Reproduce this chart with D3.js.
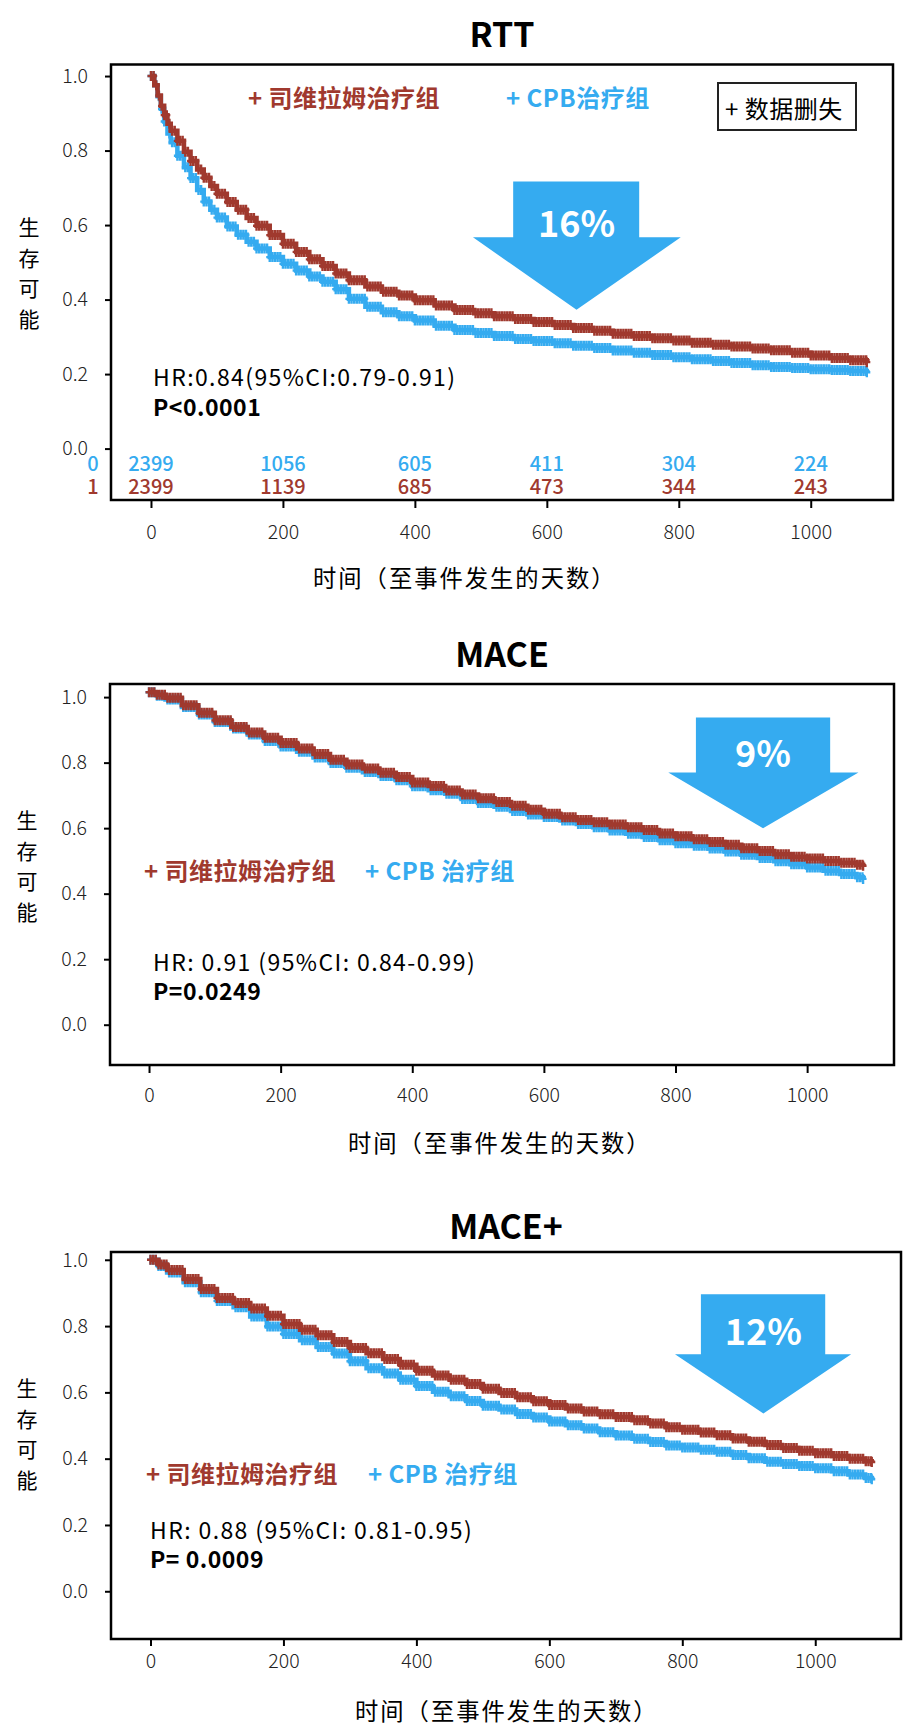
<!DOCTYPE html>
<html>
<head>
<meta charset="utf-8">
<script src="https://cdn.jsdelivr.net/npm/d3@7"></script>
<style>
  body { margin: 0; background: #fff; }
  svg { display: block; }
  text { font-family: "Noto Sans CJK SC", "Noto Sans", sans-serif; }
</style>
</head>
<body>
<div id="chart"></div>
<script>
const width = 906;
const height = 1733;
const red = "#a0392e";
const blue = "#35abf0";

// ---- RTT ----
const rttTime = [0, 5, 10, 15, 20, 25, 30, 40, 50, 60, 70, 80, 90, 100, 115, 130, 145, 160, 180, 200,
  220, 240, 260, 280, 300, 325, 350, 375, 400, 430, 460, 490, 520, 550, 580, 610, 640, 670, 700, 730,
  760, 790, 820, 850, 880, 910, 940, 970, 1000, 1030, 1060, 1085];
const rttSevelamer = [1.0, 0.975, 0.948, 0.92, 0.895, 0.872, 0.853, 0.826, 0.797, 0.772, 0.749, 0.727, 0.705, 0.684, 0.662, 0.641, 0.619, 0.598, 0.573, 0.550,
  0.528, 0.508, 0.490, 0.470, 0.452, 0.435, 0.421, 0.411, 0.398, 0.384, 0.372, 0.363, 0.355, 0.348, 0.340, 0.332, 0.324, 0.316, 0.308, 0.302,
  0.296, 0.290, 0.284, 0.279, 0.274, 0.269, 0.264, 0.257, 0.250, 0.243, 0.237, 0.232];
const rttCpb = [1.0, 0.975, 0.946, 0.912, 0.878, 0.846, 0.822, 0.786, 0.755, 0.726, 0.694, 0.663, 0.641, 0.620, 0.596, 0.574, 0.555, 0.537, 0.514, 0.496,
  0.478, 0.462, 0.448, 0.428, 0.402, 0.381, 0.366, 0.355, 0.344, 0.330, 0.318, 0.310, 0.302, 0.294, 0.289, 0.283, 0.276, 0.270, 0.263, 0.257,
  0.251, 0.245, 0.240, 0.235, 0.230, 0.224, 0.219, 0.216, 0.213, 0.211, 0.208, 0.205];
const riskTimes = [0, 200, 400, 600, 800, 1000];
const rttRiskCpb = [2399, 1056, 605, 411, 304, 224];
const rttRiskSevelamer = [2399, 1139, 685, 473, 344, 243];

// ---- MACE / MACE+ share a time grid ----
const maceTime = [0, 12, 25, 50, 75, 100, 125, 150, 175, 200, 225, 250, 275, 300, 325, 350, 375, 400, 425, 450, 475,
  500, 525, 550, 575, 600, 625, 650, 675, 700, 725, 750, 775, 800, 825, 850, 875, 900, 925, 950, 975,
  1000, 1025, 1050, 1075, 1085];
const maceSevelamer = [1.015, 1.007, 0.998, 0.975, 0.952, 0.929, 0.909, 0.892, 0.876, 0.860, 0.843, 0.826, 0.809, 0.794, 0.782, 0.769, 0.756, 0.739, 0.729, 0.715, 0.703,
  0.691, 0.680, 0.668, 0.656, 0.644, 0.633, 0.625, 0.618, 0.611, 0.603, 0.594, 0.584, 0.575, 0.566, 0.558, 0.549, 0.539, 0.530, 0.520, 0.513,
  0.507, 0.500, 0.494, 0.488, 0.485];
const maceCpb = [1.015, 1.004, 0.993, 0.970, 0.947, 0.924, 0.904, 0.886, 0.866, 0.849, 0.833, 0.816, 0.799, 0.784, 0.771, 0.759, 0.746, 0.728, 0.716, 0.705, 0.689,
  0.677, 0.665, 0.652, 0.642, 0.634, 0.623, 0.613, 0.603, 0.593, 0.583, 0.573, 0.563, 0.554, 0.546, 0.538, 0.529, 0.519, 0.509, 0.499, 0.490,
  0.480, 0.470, 0.460, 0.450, 0.445];
const macePlusSevelamer = [1.0, 0.986, 0.969, 0.942, 0.912, 0.885, 0.870, 0.853, 0.831, 0.806, 0.789, 0.772, 0.752, 0.734, 0.718, 0.701, 0.683, 0.665, 0.651, 0.638, 0.625,
  0.611, 0.598, 0.585, 0.573, 0.562, 0.551, 0.542, 0.534, 0.526, 0.516, 0.506, 0.495, 0.487, 0.479, 0.471, 0.461, 0.451, 0.441, 0.432, 0.424,
  0.416, 0.408, 0.400, 0.392, 0.390];
const macePlusCpb = [1.0, 0.981, 0.962, 0.932, 0.902, 0.876, 0.857, 0.829, 0.799, 0.776, 0.757, 0.737, 0.717, 0.694, 0.673, 0.657, 0.638, 0.619, 0.602, 0.588, 0.574,
  0.560, 0.548, 0.535, 0.524, 0.512, 0.501, 0.491, 0.480, 0.470, 0.460, 0.450, 0.440, 0.434, 0.427, 0.421, 0.411, 0.401, 0.391, 0.384, 0.378,
  0.371, 0.362, 0.352, 0.342, 0.338];

const xTicks = [0, 200, 400, 600, 800, 1000];
const yTicks = [0, 0.2, 0.4, 0.6, 0.8, 1.0];
const titles = ["RTT", "MACE", "MACE+"];
const reductions = ["16%", "9%", "12%"];
const hrTexts = ["HR:0.84(95%CI:0.79-0.91)", "HR: 0.91 (95%CI: 0.84-0.99)", "HR: 0.88 (95%CI: 0.81-0.95)"];
const pTexts = ["P<0.0001", "P=0.0249", "P= 0.0009"];
const sevLabel = ["+ 司维拉姆治疗组", "+ 司维拉姆治疗组", "+ 司维拉姆治疗组"];
const cpbLabel = ["+ CPB治疗组", "+ CPB 治疗组", "+ CPB 治疗组"];
const xTitle = "时间（至事件发生的天数）";
const yTitle = ["生", "存", "可", "能"];

const panels = [
  { time: rttTime, sev: rttSevelamer, cpb: rttCpb,
    box: { left: 111, right: 893, top: 64.5, bottom: 500 },
    xDom: [-60.6, 1124.7], yDom: [-0.138, 1.031],
    titleY: 32, tickPad: 17, tickLen: 8, xTitleX: 313, xTitleY: 577, yTitleX: 29, yTitleY: 226,
    legendY: 96, sevX: 248, cpbX: 506, hrX: 153, hrY: 376, pY: 406,
    arrow: { s0: 549, s1: 740, top: 0.717, neck: 0.567, b0: 488, b1: 803, tip: 645, tipV: 0.373, textV: 0.612 },
    risk: true, censorBox: true },
  { time: maceTime, sev: maceSevelamer, cpb: maceCpb,
    box: { left: 110, right: 894, top: 684, bottom: 1065 },
    xDom: [-59.3, 1132], yDom: [-0.123, 1.04],
    titleY: 652, tickPad: 15, tickLen: 8, xTitleX: 348, xTitleY: 1142, yTitleX: 27, yTitleY: 819,
    legendY: 869, sevX: 144, cpbX: 365, hrX: 153, hrY: 961, pY: 990,
    arrow: { s0: 831, s1: 1035, top: 0.938, neck: 0.77, b0: 789, b1: 1078, tip: 933, tipV: 0.60, textV: 0.835 } },
  { time: maceTime, sev: macePlusSevelamer, cpb: macePlusCpb,
    box: { left: 111, right: 901, top: 1252, bottom: 1639 },
    xDom: [-59.4, 1129], yDom: [-0.144, 1.0235],
    titleY: 1224, tickPad: 8, tickLen: 7, xTitleX: 355, xTitleY: 1710, yTitleX: 27, yTitleY: 1387,
    legendY: 1472, sevX: 146, cpbX: 368, hrX: 150, hrY: 1529, pY: 1558,
    arrow: { s0: 828, s1: 1015, top: 0.896, neck: 0.715, b0: 789, b1: 1054, tip: 922, tipV: 0.536, textV: 0.79 } }
];

const svg = d3.select("#chart")
  .append("svg")
  .attr("width", width)
  .attr("height", height)
  .style("background", "#fff");

panels.forEach((p, i) => {
  const b = p.box;
  const x = d3.scaleLinear().domain(p.xDom).range([b.left, b.right]);
  const y = d3.scaleLinear().domain(p.yDom).range([b.bottom, b.top]);
  const g = svg.append("g");

  // title
  g.append("text")
    .attr("x", (b.left + b.right) / 2)
    .attr("y", p.titleY)
    .attr("text-anchor", "middle")
    .attr("dominant-baseline", "central")
    .style("font-size", "34px")
    .style("font-weight", 700)
    .text(titles[i]);

  // axes
  const yAxis = g.append("g")
    .attr("transform", `translate(${b.left},0)`)
    .call(d3.axisLeft(y).tickValues(yTicks).tickFormat(d3.format(".1f")).tickSize(6).tickPadding(17));
  const xAxis = g.append("g")
    .attr("transform", `translate(0,${b.bottom})`)
    .call(d3.axisBottom(x).tickValues(xTicks).tickFormat(d3.format("d")).tickSize(p.tickLen).tickPadding(p.tickPad));
  [yAxis, xAxis].forEach(a => {
    a.select(".domain").remove();
    a.selectAll(".tick line").attr("stroke", "#000").attr("stroke-width", 2);
    a.selectAll(".tick text")
      .style("font-size", "19.5px")
      .style("font-weight", 300)
      .style("font-family", "\"Noto Sans CJK SC\", sans-serif")
      .attr("fill", "#222");
  });

  // arrow
  const a = p.arrow;
  const pts = [[a.s0, a.top], [a.s1, a.top], [a.s1, a.neck], [a.b1, a.neck], [a.tip, a.tipV],
    [a.b0, a.neck], [a.s0, a.neck]].map(d => [x(d[0]), y(d[1])]);
  g.append("polygon")
    .attr("points", pts.map(d => d.join(",")).join(" "))
    .attr("fill", blue);
  g.append("text")
    .attr("x", x(a.tip))
    .attr("y", y(a.textV))
    .attr("text-anchor", "middle")
    .attr("dominant-baseline", "central")
    .style("font-size", "36px")
    .style("font-weight", 700)
    .attr("fill", "#fff")
    .text(reductions[i]);

  // curves: CPB first, sevelamer on top
  const line = d3.line()
    .curve(d3.curveStepAfter)
    .x((d, k) => x(p.time[k]))
    .y(d => y(d));

  [[p.cpb, blue], [p.sev, red]].forEach(([vals, col]) => {
    g.append("path")
      .datum(vals)
      .attr("d", line)
      .attr("fill", "none")
      .attr("stroke", col)
      .attr("stroke-width", 4.5);

    // censor marks along the step function
    const last = p.time[p.time.length - 1];
    const mark = (t, v) => {
      const cx = x(t), cy = y(v);
      return `M${cx - 3.5},${cy}h7M${cx},${cy - 5}v10`;
    };
    let dstr = "";
    for (let t = 0; t <= last; t += 4) {
      const k = Math.max(0, d3.bisectRight(p.time, t) - 1);
      dstr += mark(t, vals[k]);
    }
    dstr += mark(last, vals[vals.length - 1]);
    g.append("path")
      .attr("d", dstr)
      .attr("fill", "none")
      .attr("stroke", col)
      .attr("stroke-width", 2.4);
  });

  // frame
  g.append("rect")
    .attr("x", b.left)
    .attr("y", b.top)
    .attr("width", b.right - b.left)
    .attr("height", b.bottom - b.top)
    .attr("fill", "none")
    .attr("stroke", "#000")
    .attr("stroke-width", 2.5);

  // legend labels
  g.append("text")
    .attr("x", p.sevX).attr("y", p.legendY)
    .attr("dominant-baseline", "central")
    .style("font-size", "24px").style("font-weight", 700).style("letter-spacing", "0.5px")
    .attr("fill", red)
    .text(sevLabel[i]);
  g.append("text")
    .attr("x", p.cpbX).attr("y", p.legendY)
    .attr("dominant-baseline", "central")
    .style("font-size", "24px").style("font-weight", 700).style("letter-spacing", "0.5px")
    .attr("fill", blue)
    .text(cpbLabel[i]);

  if (p.censorBox) {
    g.append("rect")
      .attr("x", 718).attr("y", 83)
      .attr("width", 138).attr("height", 47)
      .attr("fill", "#fff")
      .attr("stroke", "#222")
      .attr("stroke-width", 2);
    g.append("text")
      .attr("x", 725).attr("y", 107)
      .attr("dominant-baseline", "central")
      .style("font-size", "24px").style("letter-spacing", "0.5px")
      .text("+ 数据删失");
  }

  // HR and P
  g.append("text")
    .attr("x", p.hrX).attr("y", p.hrY)
    .attr("dominant-baseline", "central")
    .style("font-size", "23px").style("letter-spacing", "1.4px")
    .text(hrTexts[i]);
  g.append("text")
    .attr("x", p.hrX).attr("y", p.pY)
    .attr("dominant-baseline", "central")
    .style("font-size", "23px").style("font-weight", 700).style("letter-spacing", "0.5px")
    .text(pTexts[i]);

  // number at risk
  if (p.risk) {
    [[rttRiskCpb, blue, "0", 462], [rttRiskSevelamer, red, "1", 485]].forEach(([vals, col, lab, ry]) => {
      g.append("text")
        .attr("x", 93).attr("y", ry)
        .attr("text-anchor", "middle")
        .attr("dominant-baseline", "central")
        .style("font-size", "20px").style("font-weight", 500)
        .attr("fill", col)
        .text(lab);
      g.selectAll(null)
        .data(vals)
        .enter()
        .append("text")
        .attr("x", (d, k) => x(riskTimes[k]))
        .attr("y", ry)
        .attr("text-anchor", "middle")
        .attr("dominant-baseline", "central")
        .style("font-size", "20px").style("font-weight", 500)
        .attr("fill", col)
        .text(d => d);
    });
  }

  // axis titles
  g.append("text")
    .attr("x", p.xTitleX)
    .attr("y", p.xTitleY)
    .attr("dominant-baseline", "central")
    .style("font-size", "23.3px").style("letter-spacing", "2px")
    .text(xTitle);
  g.selectAll(null)
    .data(yTitle)
    .enter()
    .append("text")
    .attr("x", p.yTitleX)
    .attr("y", (d, k) => p.yTitleY + k * 30.5)
    .attr("text-anchor", "middle")
    .attr("dominant-baseline", "central")
    .style("font-size", "21px")
    .text(d => d);
});
</script>
</body>
</html>
